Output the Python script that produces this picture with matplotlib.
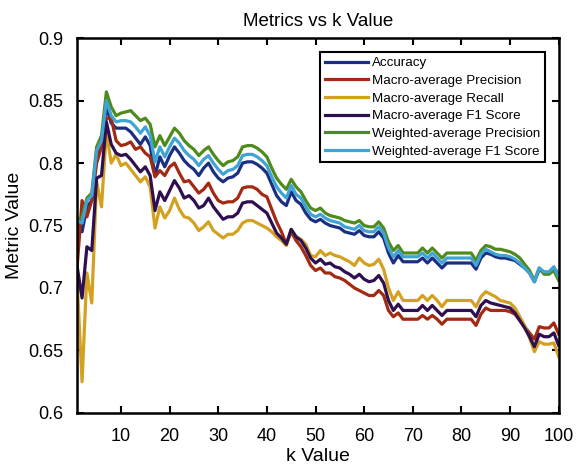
import numpy as np
import matplotlib
matplotlib.use('Agg')
import matplotlib.pyplot as plt

k_values = np.arange(1, 101)

accuracy = [
    0.752, 0.745, 0.765, 0.770, 0.805, 0.815, 0.845, 0.832, 0.828, 0.828,
    0.828, 0.825, 0.820, 0.815, 0.821, 0.814, 0.790, 0.805, 0.797, 0.806,
    0.813, 0.808, 0.802, 0.798, 0.795, 0.790, 0.796, 0.800, 0.793, 0.788,
    0.785, 0.788, 0.789, 0.792, 0.800, 0.801, 0.801, 0.799, 0.796, 0.792,
    0.783, 0.774, 0.769, 0.766, 0.777, 0.770, 0.767, 0.760, 0.755, 0.753,
    0.755, 0.752, 0.750, 0.749, 0.748, 0.745, 0.744, 0.743, 0.746, 0.742,
    0.741, 0.741, 0.745, 0.740, 0.728, 0.720, 0.726, 0.721, 0.721, 0.721,
    0.721, 0.724, 0.720, 0.724, 0.720, 0.716, 0.720, 0.720, 0.720, 0.720,
    0.720, 0.720, 0.715, 0.724, 0.728, 0.727, 0.725, 0.724, 0.724, 0.723,
    0.722, 0.719, 0.716, 0.712, 0.705, 0.715, 0.712, 0.712, 0.716, 0.711,
]

macro_precision = [
    0.717, 0.770, 0.757, 0.770, 0.800, 0.813, 0.836, 0.836, 0.818, 0.814,
    0.815, 0.817, 0.811, 0.813, 0.808, 0.805, 0.789, 0.794, 0.790, 0.797,
    0.800, 0.792, 0.785, 0.786, 0.781, 0.776, 0.779, 0.784, 0.776, 0.770,
    0.768, 0.769, 0.769, 0.772, 0.780, 0.781, 0.781, 0.779, 0.775, 0.773,
    0.763, 0.753, 0.745, 0.735, 0.745, 0.738, 0.733, 0.726, 0.718, 0.714,
    0.716, 0.712, 0.712, 0.709, 0.708, 0.706, 0.703, 0.700, 0.698, 0.696,
    0.694, 0.694, 0.698, 0.694, 0.682, 0.677, 0.680, 0.675, 0.675, 0.675,
    0.675, 0.678, 0.675, 0.678, 0.675, 0.671, 0.675, 0.675, 0.675, 0.675,
    0.675, 0.675, 0.670, 0.679, 0.684, 0.682, 0.682, 0.682, 0.682, 0.681,
    0.679, 0.674, 0.669, 0.664, 0.659, 0.669, 0.668, 0.668, 0.672, 0.663,
]

macro_recall = [
    0.705, 0.625, 0.712, 0.688, 0.785, 0.765, 0.825, 0.800, 0.807, 0.798,
    0.800, 0.795, 0.790, 0.785, 0.789, 0.781, 0.748, 0.765, 0.756, 0.762,
    0.772, 0.763, 0.757, 0.756, 0.752, 0.746, 0.749, 0.753, 0.746, 0.743,
    0.740, 0.743, 0.743, 0.746, 0.752, 0.754, 0.754, 0.752, 0.750, 0.748,
    0.745, 0.741, 0.738, 0.734, 0.747, 0.741, 0.739, 0.735, 0.726, 0.725,
    0.730, 0.726, 0.728, 0.726, 0.725, 0.723, 0.721, 0.718, 0.724, 0.720,
    0.718, 0.719, 0.723, 0.715, 0.700, 0.690, 0.697, 0.690, 0.690, 0.690,
    0.690, 0.694, 0.690, 0.694, 0.690, 0.685, 0.690, 0.690, 0.690, 0.690,
    0.690, 0.690, 0.685, 0.693, 0.697, 0.695, 0.693, 0.690, 0.689, 0.688,
    0.684, 0.677, 0.670, 0.660, 0.649, 0.657, 0.655, 0.655, 0.656, 0.645,
]

macro_f1 = [
    0.717, 0.692, 0.733, 0.730, 0.788, 0.790, 0.833, 0.815, 0.808, 0.806,
    0.807, 0.803, 0.798, 0.793, 0.797, 0.790, 0.762, 0.777, 0.770, 0.778,
    0.786, 0.780, 0.772, 0.774, 0.770, 0.764, 0.766, 0.772, 0.765, 0.760,
    0.755, 0.757, 0.757, 0.760, 0.768, 0.769, 0.769, 0.766, 0.763, 0.760,
    0.752, 0.744, 0.740, 0.735, 0.747, 0.741, 0.738, 0.732, 0.724, 0.720,
    0.723, 0.719, 0.720, 0.717, 0.716, 0.713, 0.711, 0.708, 0.711, 0.707,
    0.705, 0.706, 0.710, 0.704, 0.690, 0.682, 0.687, 0.682, 0.682, 0.682,
    0.682, 0.686, 0.682, 0.686, 0.682, 0.678, 0.682, 0.682, 0.682, 0.682,
    0.682, 0.682, 0.677, 0.686, 0.690, 0.688, 0.687, 0.686, 0.685, 0.684,
    0.680, 0.674, 0.668, 0.661, 0.653, 0.663, 0.661, 0.661, 0.664, 0.654,
]

weighted_precision = [
    0.754, 0.757, 0.772, 0.776, 0.813, 0.822, 0.857, 0.845, 0.838, 0.840,
    0.841, 0.842, 0.838, 0.834, 0.836, 0.831, 0.813, 0.822, 0.814, 0.821,
    0.828, 0.824, 0.818, 0.814, 0.811, 0.806, 0.810, 0.813, 0.807, 0.802,
    0.798, 0.801, 0.802, 0.805, 0.813, 0.814, 0.814, 0.812, 0.809, 0.805,
    0.796, 0.788, 0.783, 0.779, 0.787, 0.781, 0.777, 0.770, 0.764, 0.762,
    0.764, 0.760, 0.758, 0.757, 0.756, 0.754, 0.753, 0.752, 0.754, 0.750,
    0.749, 0.749, 0.753, 0.748, 0.737, 0.730, 0.734, 0.728, 0.728, 0.728,
    0.728, 0.732, 0.728, 0.732, 0.728, 0.724, 0.728, 0.728, 0.728, 0.728,
    0.728, 0.728, 0.722, 0.730, 0.734, 0.733, 0.731, 0.731, 0.730, 0.729,
    0.727, 0.724, 0.719, 0.714, 0.706, 0.716, 0.711, 0.711, 0.714, 0.706,
]

weighted_f1 = [
    0.754, 0.752, 0.770, 0.774, 0.810, 0.818, 0.850, 0.838, 0.833, 0.834,
    0.834, 0.833, 0.829, 0.824, 0.829, 0.822, 0.801, 0.813, 0.805, 0.813,
    0.820, 0.816, 0.810, 0.806, 0.803, 0.798, 0.803, 0.806, 0.800, 0.795,
    0.791, 0.794, 0.795, 0.798, 0.806, 0.807, 0.807, 0.805, 0.802, 0.798,
    0.789, 0.781, 0.776, 0.772, 0.782, 0.775, 0.772, 0.765, 0.759, 0.757,
    0.759, 0.756, 0.754, 0.753, 0.752, 0.749, 0.748, 0.747, 0.750, 0.746,
    0.745, 0.745, 0.749, 0.744, 0.732, 0.725, 0.730, 0.725, 0.725, 0.725,
    0.725, 0.728, 0.724, 0.728, 0.724, 0.720, 0.724, 0.724, 0.724, 0.724,
    0.724, 0.724, 0.718, 0.727, 0.731, 0.729, 0.727, 0.726, 0.726, 0.725,
    0.723, 0.720, 0.716, 0.712, 0.705, 0.716, 0.713, 0.713, 0.717, 0.709,
]

labels = ['Accuracy', 'Macro-average Precision', 'Macro-average Recall',
          'Macro-average F1 Score', 'Weighted-average Precision',
          'Weighted-average F1 Score']
series = [accuracy, macro_precision, macro_recall, macro_f1,
          weighted_precision, weighted_f1]
colors = ['#1a2f80', '#a32a12', '#d4a020', '#2e0f50', '#4f8a1c', '#3fa3d6']

plt.rcParams['font.family'] = ['Liberation Sans', 'DejaVu Sans']

fig = plt.figure(figsize=(5.76, 4.66), dpi=100)
ax = fig.add_axes([0.134, 0.114, 0.836, 0.804])

for vals, lab, col in zip(series, labels, colors):
    ax.plot(k_values, vals, color=col, linewidth=2.3, label=lab)

ax.set_xlim(1, 100)
ax.set_ylim(0.6, 0.9)
ax.set_xticks([10, 20, 30, 40, 50, 60, 70, 80, 90, 100])
ax.set_yticks([0.6, 0.65, 0.7, 0.75, 0.8, 0.85, 0.9])
ax.set_yticklabels(['0.6', '0.65', '0.7', '0.75', '0.8', '0.85', '0.9'])
ax.tick_params(direction='in', top=True, right=True, length=5, width=1.5,
               labelsize=13)
ax.tick_params(axis='x', pad=11)
ax.tick_params(axis='y', pad=10)
for sp in ax.spines.values():
    sp.set_linewidth(1.8)

ax.set_title('Metrics vs k Value', fontsize=13.5, pad=9)
ax.set_xlabel('k Value', fontsize=14, labelpad=2)
ax.set_ylabel('Metric Value', fontsize=14, labelpad=4)

leg = ax.legend(loc='upper right', fontsize=9.6, fancybox=False,
                handlelength=3.2, borderpad=0.35, labelspacing=0.4,
                handletextpad=0.35, borderaxespad=0,
                bbox_to_anchor=(0.972, 0.962))
leg.get_frame().set_edgecolor('black')
leg.get_frame().set_linewidth(1.5)
leg.get_frame().set_alpha(1)

plt.savefig('out.png', dpi=100)
plt.close()
